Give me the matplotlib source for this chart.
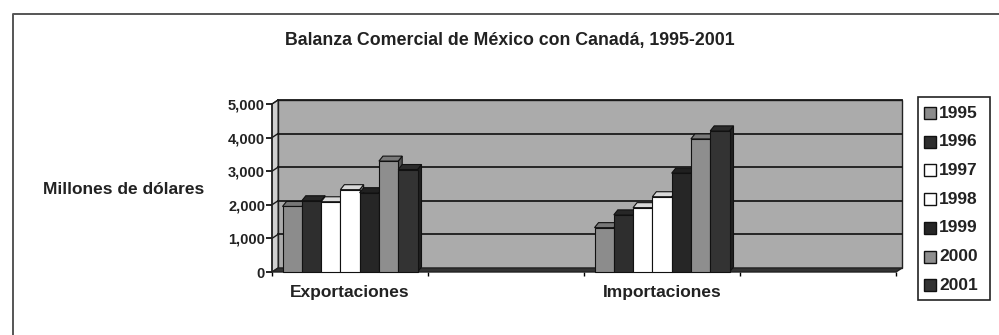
import numpy as np
import matplotlib
matplotlib.use('Agg')
import matplotlib.pyplot as plt
from matplotlib.patches import Polygon, Rectangle
from matplotlib.lines import Line2D
from matplotlib.ticker import FuncFormatter

plt.rcParams['font.family'] = ['Liberation Sans', 'DejaVu Sans']

# datos (millones de dólares)
categorias = ['Exportaciones', 'Importaciones']
anios = ['1995', '1996', '1997', '1998', '1999', '2000', '2001']
exportaciones = [1950, 2120, 2090, 2450, 2360, 3300, 3050]
importaciones = [1320, 1700, 1915, 2240, 2940, 3960, 4200]
colores = ['#8c8c8c', '#2e2e2e', '#ffffff', '#ffffff', '#262626', '#8e8e8e', '#333333']

W, H = 999, 335
fig = plt.figure(figsize=(W / 100, H / 100), dpi=100)

# marco del gráfico (solo se ven el borde izquierdo y el superior)
fig.add_artist(Line2D([13 / W, 13 / W, 1.0], [0.0, 1 - 14 / H, 1 - 14 / H], transform=fig.transFigure,
                      color='#555555', linewidth=1.4))

x0, x1 = 272, 896
y0, y1 = 272, 104
ax = fig.add_axes([x0 / W, 1 - y0 / H, (x1 - x0) / W, (y0 - y1) / H])
ax.set_xlim(-0.5, 3.5)
ax.set_ylim(0, 5000)

px_x = (x1 - x0) / 4.0
px_y = (y0 - y1) / 5000.0
dxw, dyw = 6 / px_x, 4 / px_y     # profundidad de la pared
dxb, dyb = 4 / px_x, 5 / px_y     # profundidad de las barras

# pared del fondo
ax.add_patch(Polygon([(-0.5 + dxw, dyw), (3.5 + dxw, dyw), (3.5 + dxw, 5000 + dyw), (-0.5 + dxw, 5000 + dyw)],
                     closed=True, facecolor='#ababab', edgecolor='#222222', linewidth=1.0,
                     clip_on=False, zorder=1))
# pared lateral
ax.add_patch(Polygon([(-0.5, 0), (-0.5 + dxw, dyw), (-0.5 + dxw, 5000 + dyw), (-0.5, 5000)],
                     closed=True, facecolor='#d0d0d0', edgecolor='#222222', linewidth=0.8,
                     clip_on=False, zorder=1))
# piso
ax.add_patch(Polygon([(-0.5, 0), (3.5, 0), (3.5 + dxw, dyw), (-0.5 + dxw, dyw)],
                     closed=True, facecolor='#333333', edgecolor='#222222', linewidth=1.0,
                     clip_on=False, zorder=2))
for v in range(1000, 5001, 1000):
    ax.plot([-0.5 + dxw, 3.5 + dxw], [v + dyw, v + dyw], color='#1a1a1a', linewidth=1.3,
            clip_on=False, zorder=1.5)
    ax.plot([-0.5, -0.5 + dxw], [v, v + dyw], color='#1a1a1a', linewidth=1.0,
            clip_on=False, zorder=1.5)


def sombra(c, f):
    r = np.array(matplotlib.colors.to_rgb(c)) * f
    return tuple(np.clip(r, 0, 1))


w = 135 / px_x / 7
posiciones = [0, 2]
z = 3
for pos, valores in zip(posiciones, [exportaciones, importaciones]):
    for i, (v, c) in enumerate(zip(valores, colores)):
        xl = pos + (i - 3) * w - w / 2
        xr = xl + w
        ax.add_patch(Polygon([(xr, 0), (xr + dxb, dyb), (xr + dxb, v + dyb), (xr, v)], closed=True,
                             facecolor=sombra(c, 0.6), edgecolor='#111111', linewidth=0.8,
                             clip_on=False, zorder=z))
        ax.add_patch(Polygon([(xl, v), (xr, v), (xr + dxb, v + dyb), (xl + dxb, v + dyb)], closed=True,
                             facecolor=sombra(c, 0.85), edgecolor='#111111', linewidth=0.8,
                             clip_on=False, zorder=z))
        ax.add_patch(Rectangle((xl, 0), w, v, facecolor=c, edgecolor='#111111', linewidth=0.8,
                               clip_on=False, zorder=z + 0.5))
        z += 1

for s in ['top', 'right']:
    ax.spines[s].set_visible(False)
ax.spines['bottom'].set_visible(False)
ax.spines['left'].set_color('#222222')
ax.spines['left'].set_linewidth(1.2)
ax.spines['left'].set_zorder(20)
ax.patch.set_visible(False)

ax.set_yticks(range(0, 5001, 1000))
ax.yaxis.set_major_formatter(FuncFormatter(lambda v, p: f'{int(v):,}'))
ax.tick_params(axis='y', direction='out', length=4, width=1.2, labelsize=10.5, pad=1)
ax.set_xticks(posiciones)
ax.set_xticklabels(categorias)
ax.set_xticks([-0.5, 0.5, 1.5, 2.5, 3.5], minor=True)
ax.tick_params(axis='x', which='major', length=0, labelsize=12.5, pad=9)
ax.tick_params(axis='x', which='minor', length=3, width=1)
for t in ax.get_yticklabels() + ax.get_xticklabels():
    t.set_fontweight('bold')
    t.set_color('#222222')

fig.text(510 / W, 1 - 41 / H, 'Balanza Comercial de México con Canadá, 1995-2001',
         ha='center', va='center', fontsize=12.8, fontweight='bold', color='#222222')
fig.text(124 / W, 1 - 189 / H, 'Millones de dólares', ha='center', va='center',
         fontsize=12.5, fontweight='bold', color='#222222')

# leyenda
fig.patches.append(Rectangle((918 / W, 1 - 300 / H), 72 / W, 203 / H, transform=fig.transFigure,
                             fill=False, edgecolor='#222222', linewidth=1.2))
for i, (a, c) in enumerate(zip(anios, colores)):
    yc = 113 + i * 28.7
    fig.patches.append(Rectangle((924 / W, 1 - (yc + 6) / H), 12 / W, 12 / H, transform=fig.transFigure,
                                 facecolor=c, edgecolor='#111111', linewidth=1.0))
    fig.text(939 / W, 1 - yc / H, a, ha='left', va='center', fontsize=12.5, fontweight='bold',
             color='#222222')

fig.savefig('out.png', dpi=100)
